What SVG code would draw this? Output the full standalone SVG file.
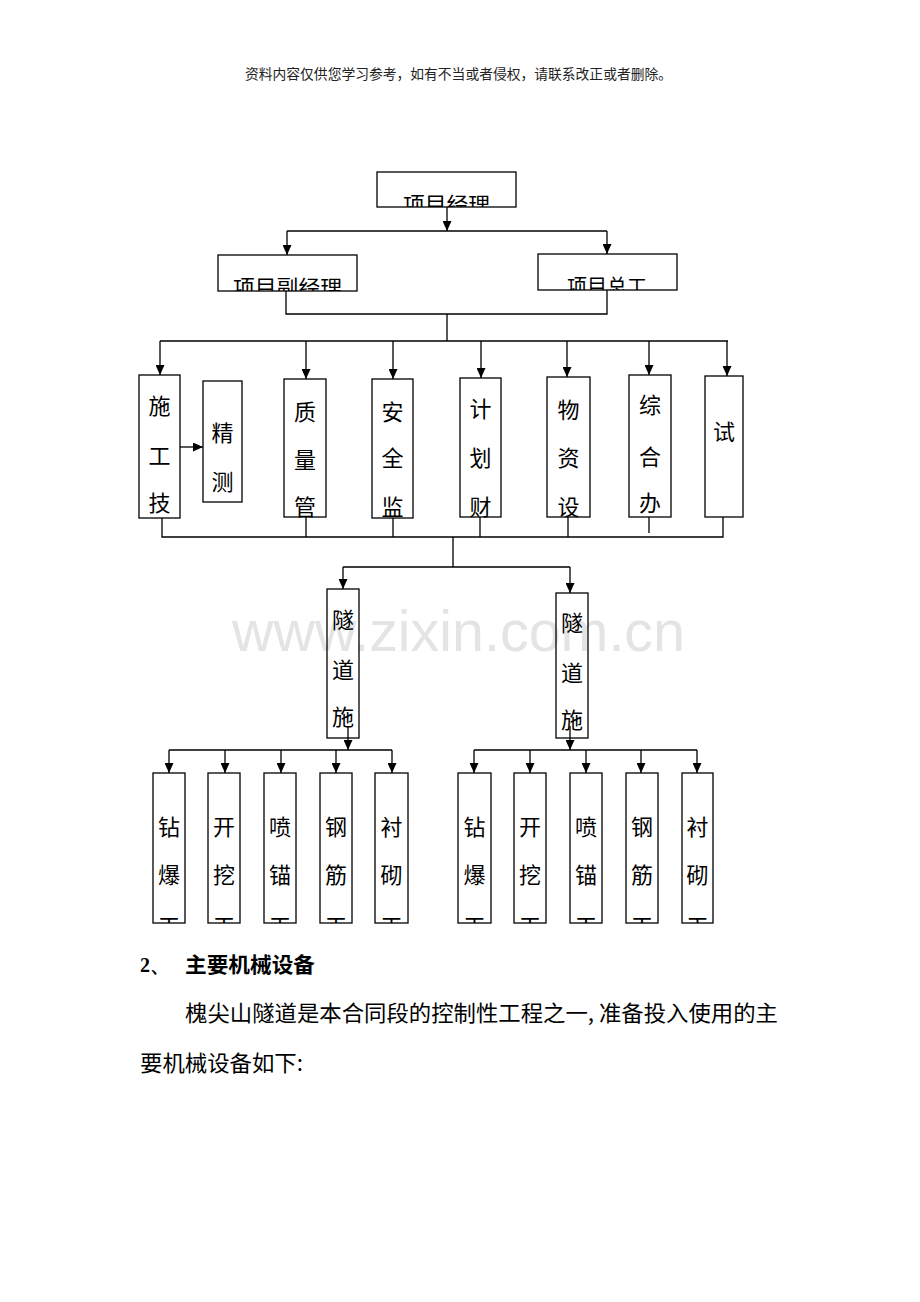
<svg xmlns="http://www.w3.org/2000/svg" width="920" height="1302" viewBox="0 0 920 1302">
<defs>
<style>
.box{fill:none;stroke:#000;stroke-width:1.3}
.ln{fill:none;stroke:#000;stroke-width:1.3}
.ar{marker-end:url(#ah)}
.t{font-family:"Noto Sans CJK SC","Noto Sans CJK JP",sans-serif;font-size:22px;fill:#000;text-anchor:middle}
.h{font-family:"Noto Sans CJK SC","Noto Sans CJK JP",sans-serif;font-size:20px;fill:#000}
.p{font-family:"Noto Sans CJK SC","Noto Sans CJK JP",sans-serif;font-size:22px;fill:#000}
</style>
<marker id="ah" markerUnits="userSpaceOnUse" markerWidth="10" markerHeight="9" refX="10" refY="4.5" orient="auto" viewBox="0 0 10 9"><path d="M0,0L10,4.5L0,9z" fill="#000"/></marker>
<clipPath id="c_pm"><rect x="377" y="172" width="139" height="35"/></clipPath>
<clipPath id="c_dpm"><rect x="218" y="255" width="139" height="36"/></clipPath>
<clipPath id="c_ce"><rect x="538" y="254" width="139" height="36"/></clipPath>
<clipPath id="c_r2"><rect x="0" y="370" width="920" height="148"/></clipPath>
<clipPath id="c_r4"><rect x="0" y="770" width="920" height="153"/></clipPath>
</defs>
<rect x="0" y="0" width="920" height="1302" fill="#fff"/>

<text x="232" y="651" font-family="Liberation Sans, Arial, sans-serif" font-size="58" fill="#e4e4e4" textLength="453" lengthAdjust="spacingAndGlyphs">www.zixin.com.cn</text>

<text x="245" y="79" font-family="Noto Sans CJK SC, sans-serif" font-size="14" fill="#222" textLength="427" lengthAdjust="spacingAndGlyphs">资料内容仅供您学习参考，如有不当或者侵权，请联系改正或者删除。</text>

<g id="connectors">
<path class="ln ar" d="M447,207V231"/>
<path class="ln" d="M287,231H607"/>
<path class="ln ar" d="M287,231V255"/>
<path class="ln ar" d="M607,231V254"/>
<path class="ln" d="M286,291V314H607V290M447,314V341M160,341H728"/>
<path class="ln ar" d="M160,341V375"/>
<path class="ln ar" d="M306,341V379"/>
<path class="ln ar" d="M393,341V379"/>
<path class="ln ar" d="M481,341V378"/>
<path class="ln ar" d="M567,341V377"/>
<path class="ln ar" d="M649,341V375"/>
<path class="ln ar" d="M727,341V376"/>
<path class="ln ar" d="M180,447H203"/>
<path class="ln" d="M162,518V537H723V517M306,517V537M393,518V537M480,517V537M568,517V537M649,517V533"/>
<path class="ln" d="M453,537V567M343,567H570"/>
<path class="ln ar" d="M343,567V589"/>
<path class="ln ar" d="M570,567V593"/>
<path class="ln ar" d="M348,726V750"/>
<path class="ln ar" d="M570,726V750"/>
<path class="ln" d="M169,750H392M474,750H697"/>
<path class="ln ar" d="M169,750V773"/>
<path class="ln ar" d="M225,750V773"/>
<path class="ln ar" d="M281,750V773"/>
<path class="ln ar" d="M336,750V773"/>
<path class="ln ar" d="M392,750V773"/>
<path class="ln ar" d="M474,750V773"/>
<path class="ln ar" d="M530,750V773"/>
<path class="ln ar" d="M586,750V773"/>
<path class="ln ar" d="M641,750V773"/>
<path class="ln ar" d="M697,750V773"/>
</g>

<g id="n_pm"><rect class="box" x="377" y="172" width="139" height="35"/><text class="h" x="403" y="212" textLength="87" lengthAdjust="spacingAndGlyphs" clip-path="url(#c_pm)">项目经理</text></g>
<g id="n_dpm"><rect class="box" x="218" y="255" width="139" height="36"/><text class="h" x="233" y="295" textLength="109" lengthAdjust="spacingAndGlyphs" clip-path="url(#c_dpm)">项目副经理</text></g>
<g id="n_ce"><rect class="box" x="538" y="254" width="139" height="36"/><text class="h" x="567" y="294" textLength="80" lengthAdjust="spacingAndGlyphs" clip-path="url(#c_ce)">项目总工</text></g>

<g id="n_tech"><rect class="box" x="139" y="375" width="41" height="143"/><text class="t" clip-path="url(#c_r2)"><tspan x="159.5" y="414">施</tspan><tspan x="159.5" y="464">工</tspan><tspan x="159.5" y="511">技</tspan></text></g>
<g id="n_survey"><rect class="box" x="203" y="381" width="39" height="121"/><text class="t"><tspan x="222.5" y="441">精</tspan><tspan x="222.5" y="490">测</tspan></text></g>
<g id="n_quality"><rect class="box" x="284" y="379" width="42" height="138"/><text class="t" clip-path="url(#c_r2)"><tspan x="305" y="420">质</tspan><tspan x="305" y="468">量</tspan><tspan x="305" y="515">管</tspan></text></g>
<g id="n_safety"><rect class="box" x="372" y="379" width="41" height="139"/><text class="t" clip-path="url(#c_r2)"><tspan x="392.5" y="420">安</tspan><tspan x="392.5" y="466">全</tspan><tspan x="392.5" y="515">监</tspan></text></g>
<g id="n_plan"><rect class="box" x="460" y="378" width="41" height="139"/><text class="t" clip-path="url(#c_r2)"><tspan x="480.5" y="417">计</tspan><tspan x="480.5" y="466">划</tspan><tspan x="480.5" y="515">财</tspan></text></g>
<g id="n_material"><rect class="box" x="547" y="377" width="43" height="140"/><text class="t" clip-path="url(#c_r2)"><tspan x="568.5" y="418">物</tspan><tspan x="568.5" y="466">资</tspan><tspan x="568.5" y="515">设</tspan></text></g>
<g id="n_office"><rect class="box" x="629" y="375" width="42" height="142"/><text class="t" clip-path="url(#c_r2)"><tspan x="650" y="413">综</tspan><tspan x="650" y="465">合</tspan><tspan x="650" y="511">办</tspan></text></g>
<g id="n_test"><rect class="box" x="705" y="376" width="38" height="141"/><text class="t"><tspan x="724" y="440">试</tspan></text></g>

<g id="n_tunnel1"><rect class="box" x="327" y="589" width="32" height="149"/><text class="t"><tspan x="343" y="628">隧</tspan><tspan x="343" y="678">道</tspan><tspan x="343" y="725">施</tspan></text></g>
<g id="n_tunnel2"><rect class="box" x="556" y="593" width="32" height="145"/><text class="t"><tspan x="572" y="631">隧</tspan><tspan x="572" y="681">道</tspan><tspan x="572" y="728">施</tspan></text></g>

<g id="n_l1"><rect class="box" x="153" y="773" width="32" height="150"/><text class="t" clip-path="url(#c_r4)"><tspan x="169" y="835">钻</tspan><tspan x="169" y="883">爆</tspan><tspan x="169" y="934">工</tspan></text></g>
<g id="n_l2"><rect class="box" x="208" y="773" width="32" height="150"/><text class="t" clip-path="url(#c_r4)"><tspan x="224" y="835">开</tspan><tspan x="224" y="883">挖</tspan><tspan x="224" y="934">工</tspan></text></g>
<g id="n_l3"><rect class="box" x="264" y="773" width="32" height="150"/><text class="t" clip-path="url(#c_r4)"><tspan x="280" y="835">喷</tspan><tspan x="280" y="883">锚</tspan><tspan x="280" y="934">工</tspan></text></g>
<g id="n_l4"><rect class="box" x="320" y="773" width="32" height="150"/><text class="t" clip-path="url(#c_r4)"><tspan x="336" y="835">钢</tspan><tspan x="336" y="883">筋</tspan><tspan x="336" y="934">工</tspan></text></g>
<g id="n_l5"><rect class="box" x="375" y="773" width="33" height="150"/><text class="t" clip-path="url(#c_r4)"><tspan x="391.5" y="835">衬</tspan><tspan x="391.5" y="883">砌</tspan><tspan x="391.5" y="934">工</tspan></text></g>

<g id="n_r1"><rect class="box" x="458" y="773" width="33" height="150"/><text class="t" clip-path="url(#c_r4)"><tspan x="474.5" y="835">钻</tspan><tspan x="474.5" y="883">爆</tspan><tspan x="474.5" y="934">工</tspan></text></g>
<g id="n_r2"><rect class="box" x="514" y="773" width="32" height="150"/><text class="t" clip-path="url(#c_r4)"><tspan x="530" y="835">开</tspan><tspan x="530" y="883">挖</tspan><tspan x="530" y="934">工</tspan></text></g>
<g id="n_r3"><rect class="box" x="570" y="773" width="32" height="150"/><text class="t" clip-path="url(#c_r4)"><tspan x="586" y="835">喷</tspan><tspan x="586" y="883">锚</tspan><tspan x="586" y="934">工</tspan></text></g>
<g id="n_r4"><rect class="box" x="626" y="773" width="32" height="150"/><text class="t" clip-path="url(#c_r4)"><tspan x="642" y="835">钢</tspan><tspan x="642" y="883">筋</tspan><tspan x="642" y="934">工</tspan></text></g>
<g id="n_r5"><rect class="box" x="682" y="773" width="31" height="150"/><text class="t" clip-path="url(#c_r4)"><tspan x="697.5" y="835">衬</tspan><tspan x="697.5" y="883">砌</tspan><tspan x="697.5" y="934">工</tspan></text></g>

<text x="140" y="972" font-family="Liberation Serif, serif" font-size="20" font-weight="bold" fill="#000">2、</text>
<text x="185" y="972" font-family="Noto Sans CJK SC, sans-serif" font-size="21" font-weight="bold" fill="#000" textLength="130" lengthAdjust="spacingAndGlyphs">主要机械设备</text>
<text class="p" x="185" y="1021" textLength="593" lengthAdjust="spacingAndGlyphs">槐尖山隧道是本合同段的控制性工程之一, 准备投入使用的主</text>
<text class="p" x="140" y="1071" textLength="163" lengthAdjust="spacingAndGlyphs">要机械设备如下:</text>
</svg>
